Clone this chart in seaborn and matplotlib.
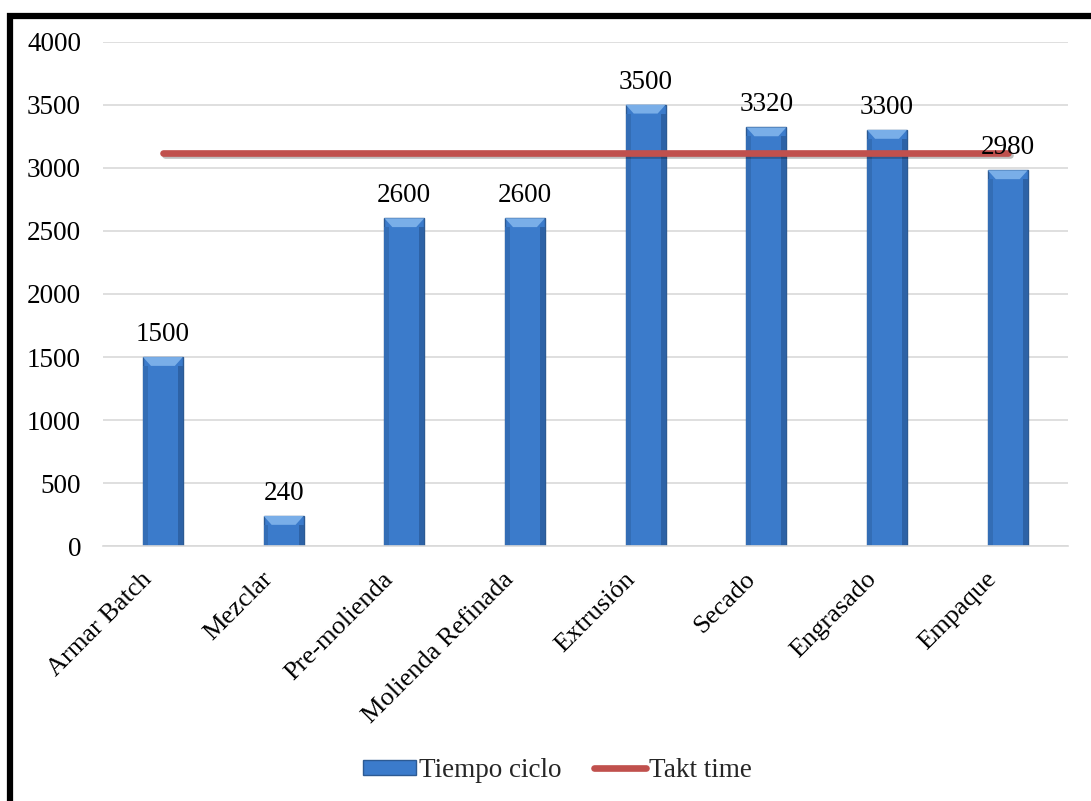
import pandas as pd
import matplotlib
matplotlib.use("Agg")
import matplotlib.pyplot as plt
import matplotlib.patheffects as pe
import matplotlib.transforms as mtransforms
import seaborn as sns
from matplotlib.patches import Rectangle, Polygon, Patch
from matplotlib.lines import Line2D

# Data
procesos = ["Armar Batch", "Mezclar", "Pre-molienda", "Molienda Refinada",
            "Extrusión", "Secado", "Engrasado", "Empaque"]
tiempo_ciclo = [1500, 240, 2600, 2600, 3500, 3320, 3300, 2980]
takt_time = [3120] * len(procesos)
y_ticks = [0, 500, 1000, 1500, 2000, 2500, 3000, 3500, 4000]

df = pd.DataFrame({"Proceso": procesos, "Tiempo ciclo": tiempo_ciclo, "Takt time": takt_time})

sns.set_style("white")
plt.rcParams["font.family"] = ["Liberation Serif", "DejaVu Serif"]

fig = plt.figure(figsize=(10.91, 8.01), dpi=100)
ax = fig.add_axes([0.094, 0.318, 0.885, 0.63])

bar_color = "#3B7BCB"
edge_color = "#2C5A93"
sns.barplot(data=df, x="Proceso", y="Tiempo ciclo", color=bar_color, width=0.33,
            edgecolor=edge_color, linewidth=1, saturation=1, ax=ax, zorder=2)

# bevel look on each bar (derived from the bar patches)
bevel_y = 70
for p in list(ax.patches):
    x0, w, h = p.get_x(), p.get_width(), p.get_height()
    bx = w * 0.2
    by = min(bevel_y, h / 2)
    ax.add_patch(Polygon([(x0, h), (x0 + w, h), (x0 + w - bx, h - by), (x0 + bx, h - by)],
                         closed=True, facecolor="#79AEE8", edgecolor="none", zorder=2.5))
    ax.add_patch(Rectangle((x0, 0), bx * 0.6, h - by, facecolor="#336DB5",
                           edgecolor="none", zorder=2.4))
    ax.add_patch(Rectangle((x0 + w - bx * 0.6, 0), bx * 0.6, h - by, facecolor="#2D62A6",
                           edgecolor="none", zorder=2.4))

# Takt time line
ax.plot(range(len(procesos)), df["Takt time"], color="#C0504D", linewidth=4.8,
        solid_capstyle="round", zorder=3,
        path_effects=[pe.SimpleLineShadow(offset=(1.5, -1.5), alpha=0.25), pe.Normal()])

# Value labels
for i, v in enumerate(tiempo_ciclo):
    ax.text(i, v + 80, str(v), ha="center", va="bottom", fontsize=19.5, color="black", zorder=4)

ax.set_ylim(0, 4000)
ax.set_yticks(y_ticks)
ax.set_xlim(-0.5, len(procesos) - 0.5)
ax.yaxis.grid(True, color="#D9D9D9", linewidth=1.2, zorder=0)
ax.set_axisbelow(True)
for s in ["top", "right", "left"]:
    ax.spines[s].set_visible(False)
ax.spines["bottom"].set_color("#D9D9D9")
ax.spines["bottom"].set_linewidth(1.2)
ax.tick_params(axis="y", length=0, labelsize=19.5, colors="black", pad=15.5)
ax.tick_params(axis="x", length=0, labelsize=19, colors="black", pad=12)
ax.set_xlabel("")
ax.set_ylabel("")
shift = mtransforms.ScaledTranslation(-22 / 100, -5 / 100, fig.dpi_scale_trans)
for lbl in ax.get_xticklabels():
    lbl.set_rotation(45)
    lbl.set_ha("right")
    lbl.set_rotation_mode("anchor")
    lbl.set_transform(lbl.get_transform() + shift)

# Legend
handles = [Patch(facecolor=bar_color, edgecolor=edge_color, label="Tiempo ciclo"),
           Line2D([0], [0], color="#C0504D", linewidth=4.8, solid_capstyle="round", label="Takt time")]
fig.legend(handles=handles, loc="center", bbox_to_anchor=(0.511, 0.038), ncol=2, frameon=False,
           fontsize=19.5, handlelength=1.95, handleheight=0.5, handletextpad=0.1, columnspacing=1.2)

# Outer black frame
fig.patches.append(Rectangle((0.009, -0.02), 1.02, 1.0, transform=fig.transFigure,
                             fill=False, edgecolor="black", linewidth=4.5))

fig.savefig("out.png", dpi=100)
